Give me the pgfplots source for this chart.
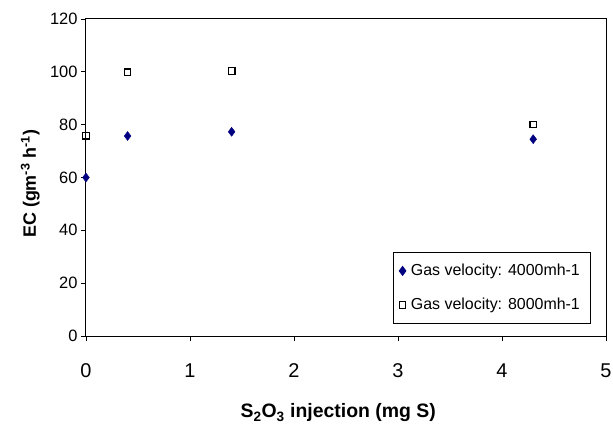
\documentclass[border=0pt]{standalone}
\usepackage{fontspec}
\setmainfont{Liberation Sans}
\usepackage{pgfplots}
\pgfplotsset{compat=1.18}
\definecolor{navy}{RGB}{0,0,128}
\begin{document}
\begin{tikzpicture}
\begin{axis}[name=ax, scale only axis, width=520bp, height=317bp,
  xmin=0, xmax=5, ymin=0, ymax=120,
  xtick={0,1,2,3,4,5}, ytick={0,20,40,60,80,100,120},
  tick align=outside, tick pos=left, major tick length=5bp,
  axis line style={line width=1bp}, every tick/.style={black, line width=0.8bp},
  /pgf/number format/assume math mode=true,
  yticklabel style={font=\fontsize{16.5}{16.5}\selectfont},
  xticklabel style={font=\fontsize{20}{20}\selectfont, yshift=-19bp},
  xlabel={\textbf{S\textsubscript{2}O\textsubscript{3} injection (mg S)}},
  ylabel={\textbf{EC (gm\textsuperscript{-3} h\textsuperscript{-1})}},
  every axis x label/.style={at={(axis description cs:0.485,0)}, anchor=center, yshift=-77bp, font=\fontsize{19.5}{19.5}\selectfont},
  every axis y label/.style={at={(axis description cs:-0.107,0.48)}, anchor=center, rotate=90, font=\fontsize{18}{18}\selectfont},
  legend style={at={(0.59,0.265)}, anchor=north west, draw=black, line width=0.8bp,
    font=\fontsize{16}{16}\selectfont, row sep=17bp, inner xsep=6bp, inner ysep=10bp,
    nodes={inner xsep=5bp}},
  legend cell align=left,
]
\addplot[only marks, mark=diamond*, mark size=4.5bp, color=navy, fill=navy] coordinates {
  (0,60) (0.4,75.7) (1.4,77.3) (4.3,74.5)};
\addlegendentry{Gas velocity: 4000mh-1\hspace{9bp}}
\addplot[only marks, mark=square, mark size=3.3bp, line width=1.2bp, color=black] coordinates {
  (0,75.8) (0.4,99.8) (1.4,100.3) (4.3,80.1)};
\addlegendentry{Gas velocity: 8000mh-1\hspace{9bp}}
\end{axis}
\pgfresetboundingbox
\path ([shift={(-86bp,-97bp)}]ax.south west) rectangle ([shift={(7bp,19bp)}]ax.north east);
\end{tikzpicture}
\end{document}
